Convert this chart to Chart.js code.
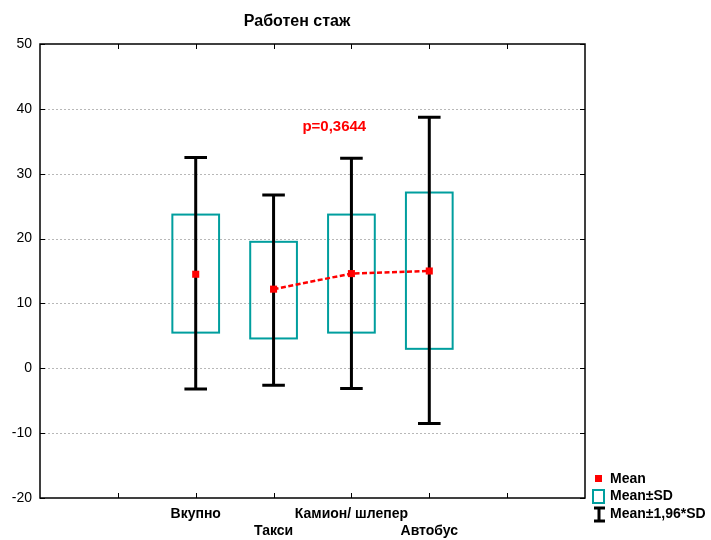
<!DOCTYPE html>
<html>
<head>
<meta charset="utf-8">
<script src="https://cdn.jsdelivr.net/npm/chart.js@4"></script>
<style>
  body { margin: 0; background: #fff; }
  canvas { display: block; }
</style>
</head>
<body>
<canvas id="chart" width="711" height="540"></canvas>
<script>
// data
const categories = ["Вкупно", "Такси", "Камион/ шлепер", "Автобус"];
const positions = [2, 3, 4, 5];
const means = [14.5, 12.2, 14.6, 15.0];
const sdLow = [5.5, 4.6, 5.5, 3.0];
const sdHigh = [23.7, 19.5, 23.7, 27.1];
const ciLow = [-3.2, -2.6, -3.1, -8.5];
const ciHigh = [32.5, 26.7, 32.4, 38.7];
const yTicks = [-20, -10, 0, 10, 20, 30, 40, 50];
const title = "Работен стаж";
const pText = "p=0,3644";

const FONT = "'Liberation Sans', Arial, sans-serif";
const TEAL = "#009e9e";
const RED = "#ff0000";

const boxPlugin = {
  id: "boxes",
  beforeDatasetsDraw(chart) {
    const { ctx, chartArea: a, scales } = chart;
    const x = scales.x, y = scales.y;
    ctx.save();
    // dotted grid
    ctx.strokeStyle = "#b8b8b8";
    ctx.lineWidth = 1;
    ctx.setLineDash([2, 2]);
    yTicks.forEach((v) => {
      if (v <= y.min || v >= y.max) return;
      const py = Math.round(y.getPixelForValue(v)) + 0.5;
      ctx.beginPath();
      ctx.moveTo(a.left, py);
      ctx.lineTo(a.right, py);
      ctx.stroke();
    });
    ctx.setLineDash([]);
    // frame
    ctx.strokeStyle = "#000";
    ctx.lineWidth = 1.5;
    ctx.strokeRect(a.left, a.top, a.right - a.left, a.bottom - a.top);
    // inward ticks
    ctx.lineWidth = 1;
    yTicks.forEach((v) => {
      const py = Math.round(y.getPixelForValue(v)) + 0.5;
      ctx.beginPath();
      ctx.moveTo(a.left, py); ctx.lineTo(a.left + 5, py);
      ctx.moveTo(a.right, py); ctx.lineTo(a.right - 5, py);
      ctx.stroke();
    });
    for (let k = 1; k < 7; k++) {
      const px = Math.round(x.getPixelForValue(k)) + 0.5;
      ctx.beginPath();
      ctx.moveTo(px, a.top); ctx.lineTo(px, a.top + 5);
      ctx.moveTo(px, a.bottom); ctx.lineTo(px, a.bottom - 5);
      ctx.stroke();
    }
    // boxes (mean ± SD)
    ctx.strokeStyle = TEAL;
    ctx.lineWidth = 2;
    positions.forEach((p, i) => {
      const l = x.getPixelForValue(p - 0.3), r = x.getPixelForValue(p + 0.3);
      const t = y.getPixelForValue(sdHigh[i]), b = y.getPixelForValue(sdLow[i]);
      ctx.strokeRect(l, t, r - l, b - t);
    });
    // whiskers (mean ± 1,96*SD)
    ctx.strokeStyle = "#000";
    ctx.lineWidth = 3;
    positions.forEach((p, i) => {
      const cx = x.getPixelForValue(p);
      const l = x.getPixelForValue(p - 0.145), r = x.getPixelForValue(p + 0.145);
      const t = y.getPixelForValue(ciHigh[i]), b = y.getPixelForValue(ciLow[i]);
      ctx.beginPath();
      ctx.moveTo(cx, t); ctx.lineTo(cx, b);
      ctx.moveTo(l, t); ctx.lineTo(r, t);
      ctx.moveTo(l, b); ctx.lineTo(r, b);
      ctx.stroke();
    });
    ctx.restore();
  },
  afterDraw(chart) {
    const { ctx, scales } = chart;
    ctx.save();
    ctx.fillStyle = "#000";
    ctx.textAlign = "center";
    ctx.textBaseline = "middle";
    ctx.font = "bold 16px " + FONT;
    ctx.fillText(title, 297, 22);
    ctx.fillStyle = RED;
    ctx.font = "bold 15px " + FONT;
    ctx.fillText(pText, scales.x.getPixelForValue(3.78), scales.y.getPixelForValue(37.2));
    // legend
    ctx.textAlign = "left";
    ctx.fillStyle = "#000";
    ctx.font = "bold 14px " + FONT;
    ctx.fillText("Mean", 610, 479);
    ctx.fillText("Mean±SD", 610, 496);
    ctx.fillText("Mean±1,96*SD", 610, 514);
    ctx.fillStyle = RED;
    ctx.fillRect(595, 475, 7, 7);
    ctx.strokeStyle = TEAL;
    ctx.lineWidth = 2;
    ctx.strokeRect(593, 490, 11, 13);
    ctx.strokeStyle = "#000";
    ctx.lineWidth = 3;
    ctx.beginPath();
    ctx.moveTo(599, 508); ctx.lineTo(599, 521);
    ctx.moveTo(594, 508); ctx.lineTo(605, 508);
    ctx.moveTo(594, 521); ctx.lineTo(605, 521);
    ctx.stroke();
    ctx.restore();
  }
};

new Chart(document.getElementById("chart"), {
  type: "scatter",
  data: {
    datasets: [
      {
        type: "line",
        data: positions.slice(1).map((p, i) => ({ x: p, y: means[i + 1] })),
        borderColor: RED,
        borderWidth: 2.5,
        borderDash: [5, 2.5],
        pointRadius: 0,
        fill: false,
      },
      {
        data: positions.map((p, i) => ({ x: p, y: means[i] })),
        pointStyle: "rect",
        pointRadius: 5,
        backgroundColor: RED,
        borderColor: RED,
        borderWidth: 0,
      },
    ],
  },
  plugins: [boxPlugin],
  options: {
    responsive: false,
    animation: false,
    layout: { padding: { top: 44, right: 126, left: 0, bottom: 0 } },
    plugins: { legend: { display: false }, tooltip: { enabled: false } },
    scales: {
      x: {
        type: "linear",
        min: 0,
        max: 7,
        afterFit: (s) => { s.height = 42; },
        afterBuildTicks: (s) => { s.ticks = positions.map((p) => ({ value: p })); },
        grid: { display: false, drawTicks: false },
        border: { display: false },
        ticks: {
          autoSkip: false,
          maxRotation: 0,
          padding: 7,
          color: "#000",
          font: { family: FONT, size: 14, weight: "bold", lineHeight: 1.25 },
          callback: (v) => {
            const i = positions.indexOf(v);
            if (i < 0) return "";
            return i % 2 === 0 ? [categories[i], ""] : ["", categories[i]];
          },
        },
      },
      y: {
        min: -20,
        max: 50,
        afterFit: (s) => { s.width = 40; },
        afterBuildTicks: (s) => { s.ticks = yTicks.map((v) => ({ value: v })); },
        grid: { display: false, drawTicks: false },
        border: { display: false },
        ticks: {
          padding: 8,
          color: "#000",
          font: { family: FONT, size: 14 },
        },
      },
    },
  },
});
</script>
</body>
</html>
